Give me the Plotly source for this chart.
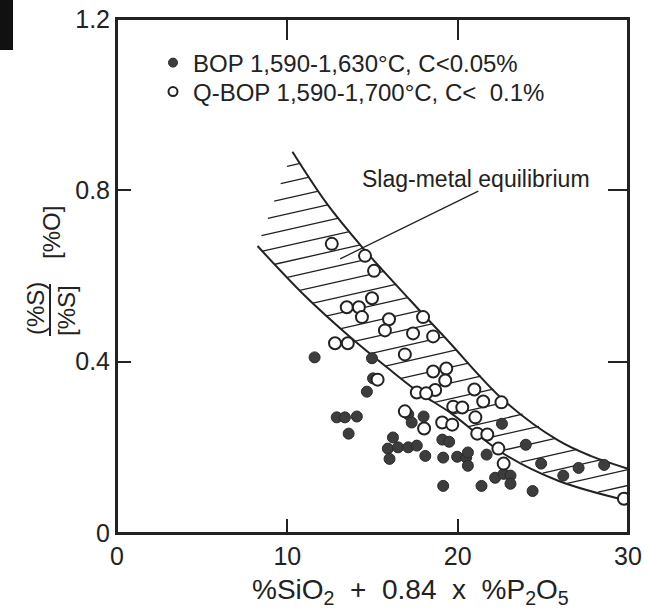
import numpy as np
import plotly.graph_objects as go

# ---- data ----
bop_x = [11.6, 14.97, 15.03, 14.67, 12.9, 13.38, 14.08, 13.6, 17.1, 17.3, 18.0, 16.2, 15.9, 16.0,
         16.5, 17.1, 17.6, 18.1, 19.1, 19.5, 19.15, 19.97, 20.5, 20.6, 20.6, 21.7, 19.15, 21.4,
         22.2, 22.7, 23.1, 23.1, 22.6, 24.0, 24.4, 24.9, 26.2, 27.1, 28.6]
bop_y = [0.410, 0.408, 0.361, 0.330, 0.270, 0.270, 0.272, 0.232, 0.277, 0.258, 0.272, 0.223, 0.197, 0.173,
         0.200, 0.200, 0.204, 0.180, 0.218, 0.213, 0.176, 0.178, 0.176, 0.188, 0.157, 0.183, 0.110, 0.110,
         0.129, 0.138, 0.134, 0.115, 0.255, 0.206, 0.098, 0.162, 0.134, 0.152, 0.159]

qbop_x = [12.61, 14.56, 15.09, 14.97, 13.49, 14.20, 14.38, 15.97, 15.73, 17.38, 17.97, 18.56, 16.9,
          12.8, 13.55, 18.56, 19.33, 19.27, 18.68, 17.6, 18.15, 20.98, 21.5, 22.57, 19.74, 20.27,
          16.9, 21.04, 19.09, 19.68, 18.03, 21.15, 21.74, 22.39, 22.7, 29.76, 15.3]
qbop_y = [0.675, 0.647, 0.612, 0.548, 0.527, 0.527, 0.504, 0.499, 0.473, 0.466, 0.504, 0.459, 0.417,
          0.443, 0.443, 0.377, 0.384, 0.356, 0.334, 0.328, 0.326, 0.335, 0.307, 0.305, 0.295, 0.293,
          0.284, 0.270, 0.258, 0.253, 0.244, 0.232, 0.230, 0.197, 0.162, 0.080, 0.358]

# slag-metal equilibrium band boundaries
upper_x = [10.3, 12.3, 14.4, 17.2, 19.4, 22.7, 25.9, 27.8, 30.0]
upper_y = [0.890, 0.770, 0.667, 0.544, 0.450, 0.310, 0.216, 0.180, 0.150]
lower_x = [8.25, 11.0, 13.7, 15.9, 17.8, 19.6, 22.7, 25.9, 30.0]
lower_y = [0.670, 0.555, 0.457, 0.385, 0.326, 0.280, 0.185, 0.122, 0.075]

x_ticks = [0, 10, 20, 30]
y_ticks = [0, 0.4, 0.8, 1.2]
y_tick_text = ["0", "0.4", "0.8", "1.2"]

legend_bop = "BOP 1,590-1,630°C, C&lt;0.05%"
legend_qbop = "Q-BOP 1,590-1,700°C, C&lt;&nbsp; 0.1%"
band_label = "Slag-metal equilibrium"

INK = "#222222"
FONT = "Liberation Sans, Arial, sans-serif"

PL, PT, PW, PH = 117, 19, 511, 514   # plot area in page pixels
W, H = 649, 611


def px_x(p):
    return (p - PL) / PW


def px_y(p):
    return (PT + PH - p) / PH


# ---- hatch lines inside the band ----
hatch_slope = 0.009
hatch_step = 0.037
xs = np.linspace(8.0, 30.0, 4401)
up = np.interp(xs, upper_x, upper_y, left=10.0)
lo = np.interp(xs, lower_x, lower_y, left=10.0)
left_edge = lower_y[0] + (upper_y[0] - lower_y[0]) / (upper_x[0] - lower_x[0]) * (xs - lower_x[0])
hx, hy = [], []
c = 0.766
while c > -0.25:
    yl = c + hatch_slope * xs
    inside = (xs >= lower_x[0]) & (yl >= lo) & (yl <= up) & ((xs > upper_x[0]) | (yl <= left_edge))
    idx = np.where(inside)[0]
    if len(idx) > 1:
        a, b = xs[idx[0]], xs[idx[-1]]
        hx += [a, b, None]
        hy += [c + hatch_slope * a, c + hatch_slope * b, None]
    c -= hatch_step

fig = go.Figure()
fig.add_trace(go.Scatter(x=hx, y=hy, mode="lines", line=dict(color=INK, width=1.3),
                         showlegend=False, hoverinfo="skip"))
fig.add_trace(go.Scatter(x=upper_x, y=upper_y, mode="lines", line=dict(color=INK, width=2, shape="spline"),
                         showlegend=False, hoverinfo="skip"))
fig.add_trace(go.Scatter(x=lower_x, y=lower_y, mode="lines", line=dict(color=INK, width=2, shape="spline"),
                         showlegend=False, hoverinfo="skip"))
fig.add_trace(go.Scatter(x=bop_x, y=bop_y, mode="markers", name=legend_bop, showlegend=False,
                         marker=dict(size=11, color="#3d3d3d", line=dict(color="#2a2a2a", width=1))))
fig.add_trace(go.Scatter(x=qbop_x, y=qbop_y, mode="markers", name=legend_qbop, showlegend=False,
                         marker=dict(size=12, color="white", line=dict(color=INK, width=2))))
# legend entries (two legends to control row spacing)
fig.add_trace(go.Scatter(x=[None], y=[None], mode="markers", name=legend_bop, legend="legend",
                         marker=dict(size=9, color="#3d3d3d", line=dict(color="#2a2a2a", width=1))))
fig.add_trace(go.Scatter(x=[None], y=[None], mode="markers", name=legend_qbop, legend="legend2",
                         marker=dict(size=9, color="white", line=dict(color=INK, width=2))))
# carrier for the top/right tick axes
fig.add_trace(go.Scatter(x=[None], y=[None], xaxis="x2", yaxis="y2", showlegend=False, hoverinfo="skip"))

# label and pointer
fig.add_annotation(x=21.05, y=0.826, text=band_label, showarrow=False,
                   font=dict(size=23, color=INK, family=FONT), xanchor="center", yanchor="middle")
fig.add_annotation(x=13.1, y=0.64, ax=21.3, ay=0.80, axref="x", ayref="y", xref="x", yref="y",
                   text="", showarrow=True, arrowhead=0, arrowwidth=1.3, arrowcolor=INK)

# y-axis title as a rotated fraction
ytitle_font = dict(size=24, color=INK, family=FONT)
for txt, px, py in [("(%S)", 35, 309), ("[%S]", 66, 311), ("[%O]", 52, 233)]:
    fig.add_annotation(xref="paper", yref="paper", x=px_x(px), y=px_y(py), text=txt,
                       textangle=-90, showarrow=False, font=ytitle_font,
                       xanchor="center", yanchor="middle")
fig.add_shape(type="line", xref="paper", yref="paper", x0=px_x(50), x1=px_x(50),
              y0=px_y(284), y1=px_y(336), line=dict(color=INK, width=2))

# frame of the plot area
fig.add_shape(type="rect", xref="paper", yref="paper", x0=0, x1=1, y0=0, y1=1,
              line=dict(color=INK, width=2), fillcolor="rgba(0,0,0,0)")
# dark scan edge in the top-left corner
fig.add_shape(type="rect", xref="paper", yref="paper", x0=px_x(0), x1=px_x(13), y0=px_y(50), y1=px_y(0),
              line=dict(width=0), fillcolor="#111111")

# x-axis title
fig.add_annotation(xref="paper", yref="paper", x=px_x(410), y=px_y(591),
                   text="%SiO<sub>2</sub>  +  0.84  x  %P<sub>2</sub>O<sub>5</sub>", showarrow=False,
                   font=dict(size=28, color=INK, family=FONT), xanchor="center", yanchor="middle")

axis_common = dict(showline=True, linecolor=INK, linewidth=2, ticks="inside",
                   tickwidth=2, tickcolor=INK, showgrid=False, zeroline=False,
                   automargin=False, tickfont=dict(size=25, color=INK, family=FONT))
fig.update_layout(
    xaxis=dict(range=[0, 30], tickvals=x_ticks, ticklen=14, mirror=True, **axis_common),
    yaxis=dict(range=[0, 1.2], tickvals=y_ticks, ticktext=y_tick_text, ticklen=14, mirror=True,
               **axis_common),
    xaxis2=dict(range=[0, 30], tickvals=x_ticks, ticklen=21, overlaying="x", side="top", anchor="y2",
                showticklabels=False, **axis_common),
    yaxis2=dict(range=[0, 1.2], tickvals=y_ticks, ticklen=20, overlaying="y", side="right", anchor="x2",
                showticklabels=False, **axis_common),
)

legend_common = dict(xanchor="left", yanchor="middle", bgcolor="rgba(0,0,0,0)",
                     font=dict(size=24, color=INK, family=FONT), itemsizing="trace")
fig.update_layout(
    width=W, height=H,
    margin=dict(l=PL, r=W - PL - PW, t=PT, b=H - PT - PH, autoexpand=False),
    plot_bgcolor="white", paper_bgcolor="white",
    font=dict(family=FONT, color=INK),
    legend=dict(x=px_x(153), y=px_y(63), **legend_common),
    legend2=dict(x=px_x(153), y=px_y(92), **legend_common),
)

fig.write_html("out.html", config={"displayModeBar": False},
               post_script="document.documentElement.style.margin='0';document.body.style.margin='0';"
                           "document.body.style.padding='0';document.body.style.overflow='hidden';")
